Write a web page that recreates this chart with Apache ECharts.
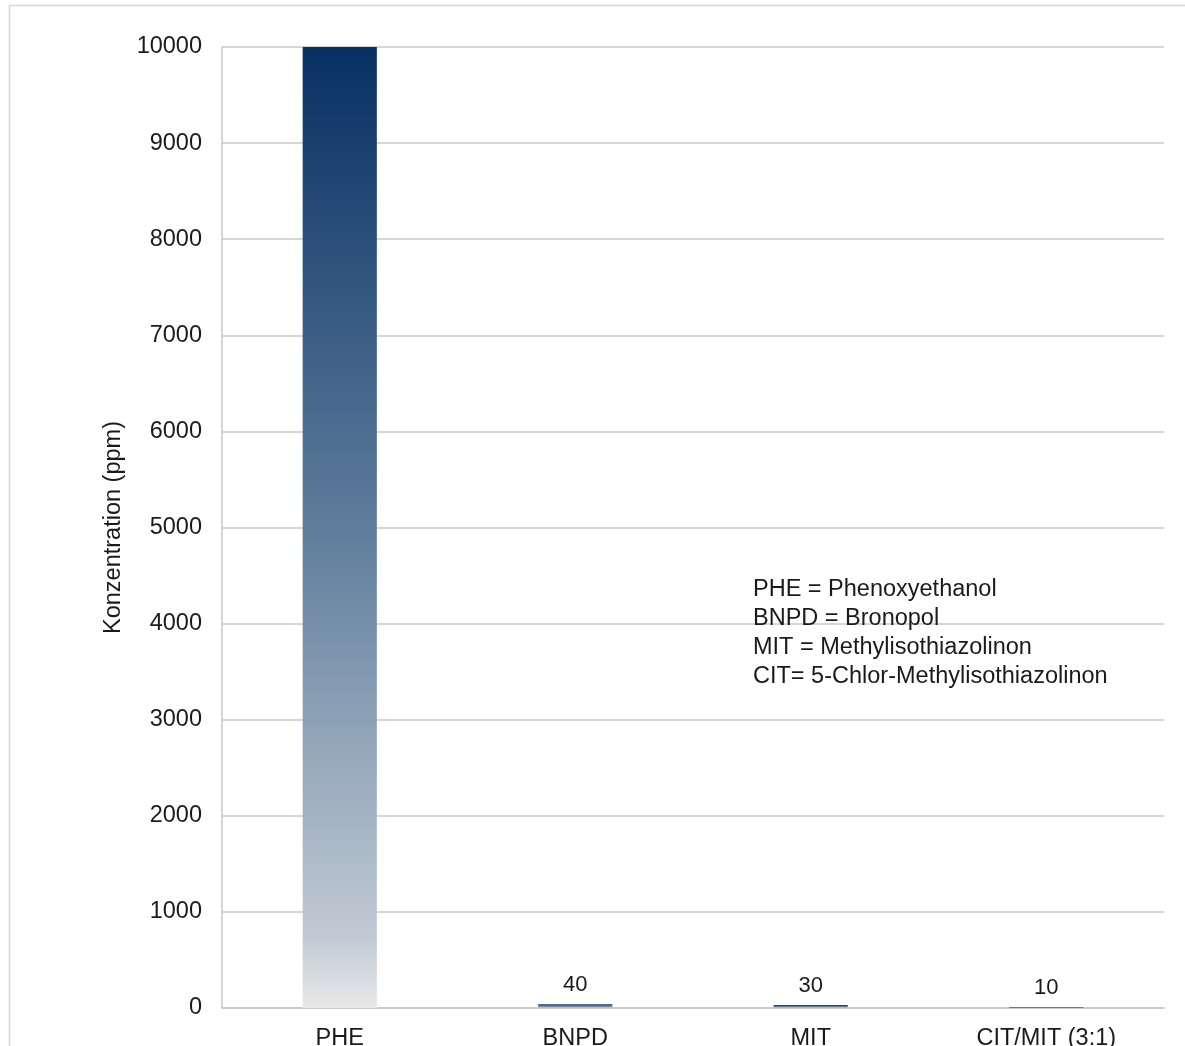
<!DOCTYPE html>
<html>
<head>
<meta charset="utf-8">
<script src="https://cdn.jsdelivr.net/npm/echarts@6/dist/echarts.min.js"></script>
<style>
  html, body { margin: 0; padding: 0; background: #ffffff; }
  #chart { width: 1185px; height: 1046px; }
</style>
</head>
<body>
<div id="chart"></div>
<script>
// Preservative concentrations (ppm)
const categories = ['PHE', 'BNPD', 'MIT', 'CIT/MIT (3:1)'];
const concentrations = [10000, 40, 30, 10];
const yTicks = { min: 0, max: 10000, interval: 1000 };
const glossary = [
  'PHE = Phenoxyethanol',
  'BNPD = Bronopol',
  'MIT = Methylisothiazolinon',
  'CIT= 5-Chlor-Methylisothiazolinon'
];

const FONT = '"Liberation Sans", Arial, sans-serif';

const chart = echarts.init(document.getElementById('chart'), null, { renderer: 'canvas' });

chart.setOption({
  animation: false,
  backgroundColor: '#ffffff',
  textStyle: { fontFamily: FONT },
  grid: {
    left: 222, right: 21, top: 47, bottom: 38,
    containLabel: false,
    outerBoundsMode: 'none'
  },
  xAxis: {
    type: 'category',
    data: categories,
    axisLine: { show: true, lineStyle: { color: '#c8c8c8', width: 1.5 } },
    axisTick: { show: false },
    axisLabel: { color: '#1a1a1a', fontSize: 23.5, margin: 19, fontFamily: FONT }
  },
  yAxis: {
    type: 'value',
    min: yTicks.min,
    max: yTicks.max,
    interval: yTicks.interval,
    name: 'Konzentration (ppm)',
    nameLocation: 'middle',
    nameGap: 92,
    nameTextStyle: { color: '#1a1a1a', fontSize: 23.5, fontFamily: FONT },
    axisLine: { show: true, lineStyle: { color: '#c8c8c8', width: 1.5 } },
    axisTick: { show: false },
    axisLabel: {
      color: '#1a1a1a',
      fontSize: 23.5,
      margin: 20,
      fontFamily: FONT,
      formatter: (v) => String(v)
    },
    splitLine: { show: true, lineStyle: { color: '#c8c8c8', width: 1.5 } }
  },
  series: [{
    type: 'bar',
    data: concentrations,
    barWidth: '31.5%',
    itemStyle: {
      color: new echarts.graphic.LinearGradient(0, 0, 0, 1, [
        { offset: 0, color: '#073063' },
        { offset: 0.5, color: '#5f7d9c' },
        { offset: 0.93, color: '#c2cbd5' },
        { offset: 1, color: '#e8e8e8' }
      ])
    },
    label: {
      show: true,
      position: 'top',
      distance: 8,
      color: '#1a1a1a',
      fontSize: 22,
      fontFamily: FONT,
      formatter: (p) => (p.value < 1000 ? String(p.value) : '')
    }
  }],
  graphic: [
    {
      type: 'rect',
      shape: { x: 9.5, y: 5.5, width: 1200, height: 1100 },
      style: { fill: 'none', stroke: '#d6d6d6', lineWidth: 1.5 },
      silent: true,
      z: -1
    },
    {
      type: 'text',
      left: 753,
      top: 575,
      style: {
        text: glossary.join('\n'),
        fill: '#1a1a1a',
        font: '23.5px ' + FONT,
        lineHeight: 29
      },
      z: 10
    }
  ]
});
</script>
</body>
</html>
